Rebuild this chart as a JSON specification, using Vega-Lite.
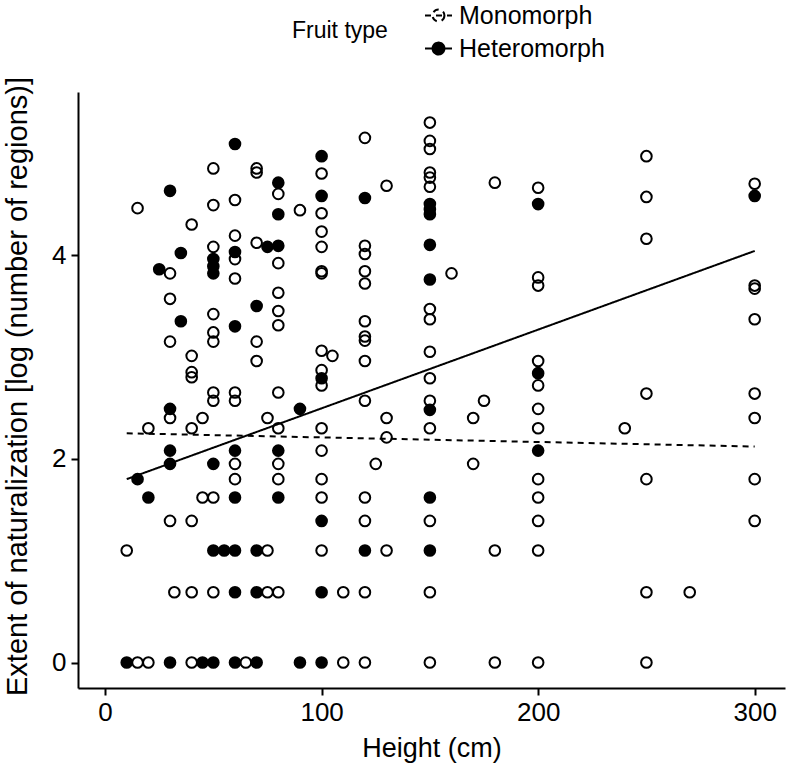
{
  "$schema": "https://vega.github.io/schema/vega-lite/v6.json",
  "width": 707,
  "height": 596,
  "autosize": {"type": "none"},
  "padding": {"left": 78, "top": 92, "right": 1, "bottom": 80},
  "background": "white",
  "config": {
    "view": {"stroke": null},
    "font": "Liberation Sans",
    "axis": {
      "grid": false,
      "domainColor": "black",
      "domainWidth": 2,
      "tickColor": "black",
      "tickWidth": 2,
      "tickSize": 7,
      "labelColor": "black",
      "labelFontSize": 26,
      "titleColor": "black",
      "titleFontWeight": "normal"
    }
  },
  "datasets": {
    "pts": [
      {"h":10,"e":0,"t":"Heteromorph"},{"h":15,"e":1.80,"t":"Heteromorph"},{"h":20,"e":1.62,"t":"Heteromorph"},{"h":25,"e":3.86,"t":"Heteromorph"},
      {"h":30,"e":4.63,"t":"Heteromorph"},{"h":30,"e":2.49,"t":"Heteromorph"},{"h":30,"e":2.08,"t":"Heteromorph"},{"h":30,"e":1.95,"t":"Heteromorph"},{"h":30,"e":0,"t":"Heteromorph"},
      {"h":35,"e":4.02,"t":"Heteromorph"},{"h":35,"e":3.35,"t":"Heteromorph"},{"h":45,"e":0,"t":"Heteromorph"},
      {"h":50,"e":3.96,"t":"Heteromorph"},{"h":50,"e":3.89,"t":"Heteromorph"},{"h":50,"e":3.82,"t":"Heteromorph"},{"h":50,"e":1.95,"t":"Heteromorph"},{"h":50,"e":1.10,"t":"Heteromorph"},{"h":50,"e":0,"t":"Heteromorph"},
      {"h":55,"e":1.10,"t":"Heteromorph"},
      {"h":60,"e":5.09,"t":"Heteromorph"},{"h":60,"e":4.03,"t":"Heteromorph"},{"h":60,"e":3.30,"t":"Heteromorph"},{"h":60,"e":2.08,"t":"Heteromorph"},{"h":60,"e":1.62,"t":"Heteromorph"},{"h":60,"e":1.10,"t":"Heteromorph"},{"h":60,"e":0.69,"t":"Heteromorph"},{"h":60,"e":0,"t":"Heteromorph"},
      {"h":70,"e":3.50,"t":"Heteromorph"},{"h":70,"e":1.10,"t":"Heteromorph"},{"h":70,"e":0.69,"t":"Heteromorph"},{"h":70,"e":0,"t":"Heteromorph"},
      {"h":75,"e":4.08,"t":"Heteromorph"},
      {"h":80,"e":4.71,"t":"Heteromorph"},{"h":80,"e":4.40,"t":"Heteromorph"},{"h":80,"e":4.09,"t":"Heteromorph"},{"h":80,"e":2.08,"t":"Heteromorph"},{"h":80,"e":1.62,"t":"Heteromorph"},
      {"h":90,"e":2.49,"t":"Heteromorph"},{"h":90,"e":0,"t":"Heteromorph"},
      {"h":100,"e":4.97,"t":"Heteromorph"},{"h":100,"e":4.58,"t":"Heteromorph"},{"h":100,"e":2.79,"t":"Heteromorph"},{"h":100,"e":1.39,"t":"Heteromorph"},{"h":100,"e":0.69,"t":"Heteromorph"},{"h":100,"e":0,"t":"Heteromorph"},
      {"h":120,"e":4.56,"t":"Heteromorph"},{"h":120,"e":1.10,"t":"Heteromorph"},
      {"h":150,"e":4.50,"t":"Heteromorph"},{"h":150,"e":4.45,"t":"Heteromorph"},{"h":150,"e":4.40,"t":"Heteromorph"},{"h":150,"e":4.10,"t":"Heteromorph"},{"h":150,"e":3.76,"t":"Heteromorph"},{"h":150,"e":2.48,"t":"Heteromorph"},{"h":150,"e":1.62,"t":"Heteromorph"},{"h":150,"e":1.10,"t":"Heteromorph"},
      {"h":200,"e":4.50,"t":"Heteromorph"},{"h":200,"e":2.84,"t":"Heteromorph"},{"h":200,"e":2.08,"t":"Heteromorph"},
      {"h":300,"e":4.58,"t":"Heteromorph"},
      {"h":10,"e":1.10,"t":"Monomorph"},{"h":15,"e":4.46,"t":"Monomorph"},{"h":15,"e":0,"t":"Monomorph"},{"h":20,"e":2.30,"t":"Monomorph"},{"h":20,"e":0,"t":"Monomorph"},
      {"h":30,"e":3.82,"t":"Monomorph"},{"h":30,"e":3.57,"t":"Monomorph"},{"h":30,"e":3.15,"t":"Monomorph"},{"h":30,"e":2.40,"t":"Monomorph"},{"h":30,"e":1.39,"t":"Monomorph"},
      {"h":32,"e":0.69,"t":"Monomorph"},
      {"h":40,"e":4.30,"t":"Monomorph"},{"h":40,"e":3.01,"t":"Monomorph"},{"h":40,"e":2.85,"t":"Monomorph"},{"h":40,"e":2.80,"t":"Monomorph"},{"h":40,"e":2.30,"t":"Monomorph"},{"h":40,"e":1.39,"t":"Monomorph"},{"h":40,"e":0.69,"t":"Monomorph"},{"h":40,"e":0,"t":"Monomorph"},
      {"h":45,"e":2.40,"t":"Monomorph"},{"h":45,"e":1.62,"t":"Monomorph"},
      {"h":50,"e":4.85,"t":"Monomorph"},{"h":50,"e":4.49,"t":"Monomorph"},{"h":50,"e":4.08,"t":"Monomorph"},{"h":50,"e":3.42,"t":"Monomorph"},{"h":50,"e":3.24,"t":"Monomorph"},{"h":50,"e":3.15,"t":"Monomorph"},{"h":50,"e":2.65,"t":"Monomorph"},{"h":50,"e":2.57,"t":"Monomorph"},{"h":50,"e":1.62,"t":"Monomorph"},{"h":50,"e":0.69,"t":"Monomorph"},
      {"h":60,"e":4.54,"t":"Monomorph"},{"h":60,"e":4.19,"t":"Monomorph"},{"h":60,"e":3.96,"t":"Monomorph"},{"h":60,"e":3.77,"t":"Monomorph"},{"h":60,"e":2.65,"t":"Monomorph"},{"h":60,"e":2.57,"t":"Monomorph"},{"h":60,"e":1.95,"t":"Monomorph"},{"h":60,"e":1.80,"t":"Monomorph"},
      {"h":65,"e":0,"t":"Monomorph"},
      {"h":70,"e":4.85,"t":"Monomorph"},{"h":70,"e":4.81,"t":"Monomorph"},{"h":70,"e":4.12,"t":"Monomorph"},{"h":70,"e":3.15,"t":"Monomorph"},{"h":70,"e":2.96,"t":"Monomorph"},
      {"h":75,"e":2.40,"t":"Monomorph"},{"h":75,"e":1.10,"t":"Monomorph"},{"h":75,"e":0.69,"t":"Monomorph"},
      {"h":80,"e":4.60,"t":"Monomorph"},{"h":80,"e":3.92,"t":"Monomorph"},{"h":80,"e":3.63,"t":"Monomorph"},{"h":80,"e":3.45,"t":"Monomorph"},{"h":80,"e":3.31,"t":"Monomorph"},{"h":80,"e":2.65,"t":"Monomorph"},{"h":80,"e":2.30,"t":"Monomorph"},{"h":80,"e":1.95,"t":"Monomorph"},{"h":80,"e":1.80,"t":"Monomorph"},{"h":80,"e":0.69,"t":"Monomorph"},
      {"h":90,"e":4.44,"t":"Monomorph"},
      {"h":100,"e":4.80,"t":"Monomorph"},{"h":100,"e":4.41,"t":"Monomorph"},{"h":100,"e":4.23,"t":"Monomorph"},{"h":100,"e":4.08,"t":"Monomorph"},{"h":100,"e":3.84,"t":"Monomorph"},{"h":100,"e":3.82,"t":"Monomorph"},{"h":100,"e":3.06,"t":"Monomorph"},{"h":100,"e":2.87,"t":"Monomorph"},{"h":100,"e":2.72,"t":"Monomorph"},{"h":100,"e":2.30,"t":"Monomorph"},{"h":100,"e":2.08,"t":"Monomorph"},{"h":100,"e":1.80,"t":"Monomorph"},{"h":100,"e":1.62,"t":"Monomorph"},{"h":100,"e":1.10,"t":"Monomorph"},
      {"h":105,"e":3.01,"t":"Monomorph"},{"h":110,"e":0.69,"t":"Monomorph"},{"h":110,"e":0,"t":"Monomorph"},
      {"h":120,"e":5.15,"t":"Monomorph"},{"h":120,"e":4.09,"t":"Monomorph"},{"h":120,"e":4.01,"t":"Monomorph"},{"h":120,"e":3.84,"t":"Monomorph"},{"h":120,"e":3.72,"t":"Monomorph"},{"h":120,"e":3.35,"t":"Monomorph"},{"h":120,"e":3.20,"t":"Monomorph"},{"h":120,"e":3.16,"t":"Monomorph"},{"h":120,"e":2.96,"t":"Monomorph"},{"h":120,"e":2.57,"t":"Monomorph"},{"h":120,"e":1.62,"t":"Monomorph"},{"h":120,"e":1.39,"t":"Monomorph"},{"h":120,"e":0.69,"t":"Monomorph"},{"h":120,"e":0,"t":"Monomorph"},
      {"h":125,"e":1.95,"t":"Monomorph"},
      {"h":130,"e":4.68,"t":"Monomorph"},{"h":130,"e":2.40,"t":"Monomorph"},{"h":130,"e":2.21,"t":"Monomorph"},{"h":130,"e":1.10,"t":"Monomorph"},
      {"h":150,"e":5.30,"t":"Monomorph"},{"h":150,"e":5.12,"t":"Monomorph"},{"h":150,"e":5.04,"t":"Monomorph"},{"h":150,"e":4.81,"t":"Monomorph"},{"h":150,"e":4.76,"t":"Monomorph"},{"h":150,"e":4.67,"t":"Monomorph"},{"h":150,"e":3.47,"t":"Monomorph"},{"h":150,"e":3.37,"t":"Monomorph"},{"h":150,"e":3.05,"t":"Monomorph"},{"h":150,"e":2.79,"t":"Monomorph"},{"h":150,"e":2.57,"t":"Monomorph"},{"h":150,"e":2.30,"t":"Monomorph"},{"h":150,"e":1.39,"t":"Monomorph"},{"h":150,"e":0.69,"t":"Monomorph"},{"h":150,"e":0,"t":"Monomorph"},
      {"h":160,"e":3.82,"t":"Monomorph"},{"h":170,"e":2.40,"t":"Monomorph"},{"h":170,"e":1.95,"t":"Monomorph"},{"h":175,"e":2.57,"t":"Monomorph"},
      {"h":180,"e":4.71,"t":"Monomorph"},{"h":180,"e":1.10,"t":"Monomorph"},{"h":180,"e":0,"t":"Monomorph"},
      {"h":200,"e":4.66,"t":"Monomorph"},{"h":200,"e":3.78,"t":"Monomorph"},{"h":200,"e":3.70,"t":"Monomorph"},{"h":200,"e":2.96,"t":"Monomorph"},{"h":200,"e":2.72,"t":"Monomorph"},{"h":200,"e":2.49,"t":"Monomorph"},{"h":200,"e":2.30,"t":"Monomorph"},{"h":200,"e":1.80,"t":"Monomorph"},{"h":200,"e":1.62,"t":"Monomorph"},{"h":200,"e":1.39,"t":"Monomorph"},{"h":200,"e":1.10,"t":"Monomorph"},{"h":200,"e":0,"t":"Monomorph"},
      {"h":240,"e":2.30,"t":"Monomorph"},
      {"h":250,"e":4.97,"t":"Monomorph"},{"h":250,"e":4.57,"t":"Monomorph"},{"h":250,"e":4.16,"t":"Monomorph"},{"h":250,"e":2.64,"t":"Monomorph"},{"h":250,"e":1.80,"t":"Monomorph"},{"h":250,"e":0.69,"t":"Monomorph"},{"h":250,"e":0,"t":"Monomorph"},
      {"h":270,"e":0.69,"t":"Monomorph"},
      {"h":300,"e":4.70,"t":"Monomorph"},{"h":300,"e":3.70,"t":"Monomorph"},{"h":300,"e":3.67,"t":"Monomorph"},{"h":300,"e":3.37,"t":"Monomorph"},{"h":300,"e":2.64,"t":"Monomorph"},{"h":300,"e":2.40,"t":"Monomorph"},{"h":300,"e":1.80,"t":"Monomorph"},{"h":300,"e":1.39,"t":"Monomorph"}
    ],
    "fits": [
      {"h":10,"e":1.80,"t":"Heteromorph"},{"h":300,"e":4.04,"t":"Heteromorph"},
      {"h":10,"e":2.25,"t":"Monomorph"},{"h":300,"e":2.12,"t":"Monomorph"}
    ]
  },
  "layer": [
    {
      "data": {"name": "pts"},
      "mark": {"type": "point", "shape": "circle", "filled": true, "size": 113, "stroke": "black", "strokeWidth": 2, "opacity": 1},
      "encoding": {
        "x": {"field": "h", "type": "quantitative", "scale": {"domain": [-12.5, 314], "nice": false, "zero": false},
              "axis": {"values": [0, 100, 200, 300], "format": "d", "title": "Height (cm)", "titleFontSize": 27, "labelPadding": 4, "titleY": 60, "titleBaseline": "middle"}},
        "y": {"field": "e", "type": "quantitative", "scale": {"domain": [-0.25, 5.6], "nice": false, "zero": false},
              "axis": {"values": [0, 2, 4], "format": "d", "title": "Extent of naturalization [log (number of regions)]", "titleFontSize": 29, "labelPadding": 5, "titleX": -61, "titleY": 294, "titleBaseline": "middle", "titleAlign": "center"}},
        "fill": {"field": "t", "type": "nominal", "scale": {"domain": ["Monomorph", "Heteromorph"], "range": ["transparent", "black"]},
                 "legend": {"title": "Fruit type", "orient": "none", "legendX": 214, "legendY": -91, "direction": "vertical",
                            "titleOrient": "left", "titleAngle": 0, "titleAnchor": "middle", "titleBaseline": "middle", "titleFontSize": 23, "titleFontWeight": "normal", "titleColor": "black", "titlePadding": 36,
                            "labelFontSize": 25, "labelColor": "black", "labelOffset": 6, "rowPadding": 5, "padding": 0,
                            "symbolType": "M-1,0L1,0M0.44,0A0.44,0.44,0,1,1,-0.44,0A0.44,0.44,0,1,1,0.44,0Z",
                            "symbolSize": 729, "symbolStrokeColor": "black", "symbolStrokeWidth": 2}}
      }
    },
    {
      "data": {"name": "fits"},
      "mark": {"type": "line", "color": "black", "strokeWidth": 2},
      "encoding": {
        "x": {"field": "h", "type": "quantitative"},
        "y": {"field": "e", "type": "quantitative"},
        "detail": {"field": "t", "type": "nominal"},
        "strokeDash": {"field": "t", "type": "nominal", "scale": {"domain": ["Monomorph", "Heteromorph"], "range": [[6, 5], [1, 0]]}, "legend": null}
      }
    }
  ]
}
